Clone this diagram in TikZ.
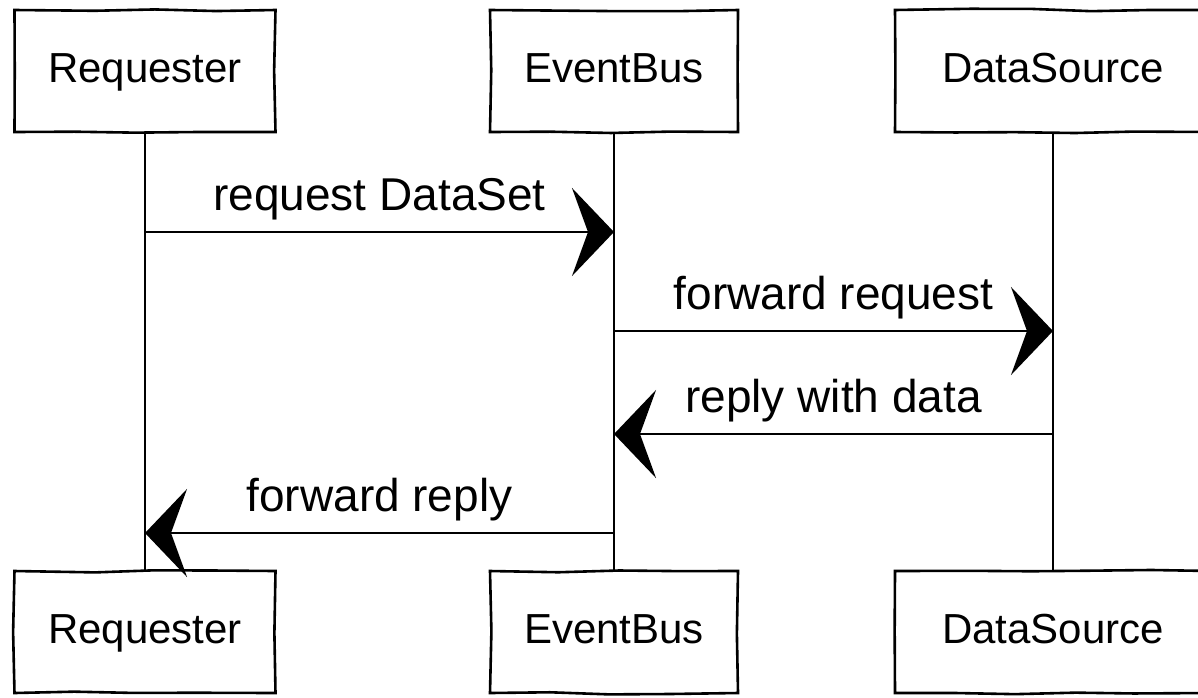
\documentclass[tikz,border=0pt]{standalone}
\usepackage{fontspec}
\setmainfont{Liberation Sans}
\usetikzlibrary{arrows.meta,decorations.pathmorphing}

\tikzset{
  actor/.style={draw, line width=1.3pt, minimum height=61pt, inner sep=0pt,
    text height=15pt, text depth=4pt,
    decorate, decoration={random steps, segment length=30pt, amplitude=0.7pt},
    font=\fontsize{21}{25}\selectfont},
  lifeline/.style={line width=0.7pt},
  message/.style={-{Stealth[length=21pt, width=44pt, inset=8pt]}, line width=1.3pt},
  message label/.style={above=2pt, font=\fontsize{23}{27}\selectfont}
}

\begin{document}
\pgfmathsetseed{7}
\begin{tikzpicture}[x=0.5pt, y=-0.5pt]

\useasboundingbox (0,0) rectangle (1198,697);

\foreach \m/\l/\x/\w in {requester/Requester/145/130.5, eventbus/EventBus/614/124, datasource/DataSource/1053/158}
  \node [actor, minimum width=\w pt] (\m-top) at (\x,71) {\l};

\foreach \m/\l/\x/\w in {requester/Requester/145/130.5, eventbus/EventBus/614/124, datasource/DataSource/1053/158}
  \node [actor, minimum width=\w pt] (\m-bottom) at (\x,632) {\l};

\foreach \m in {requester, eventbus, datasource}
  \draw [lifeline] (\m-top) -- (\m-bottom);

\foreach \a/\b/\y/\l in {requester/eventbus/232/request DataSet,
                         eventbus/datasource/331/forward request,
                         datasource/eventbus/434/reply with data,
                         eventbus/requester/533/forward reply}
{
  \coordinate (\a-\y) at (\a-top |- 0,\y);
  \coordinate (\b-\y) at (\b-top |- 0,\y);
  \draw [message] (\a-\y) -- (\b-\y)
    node [message label, midway] {\l};
}

\end{tikzpicture}
\end{document}
